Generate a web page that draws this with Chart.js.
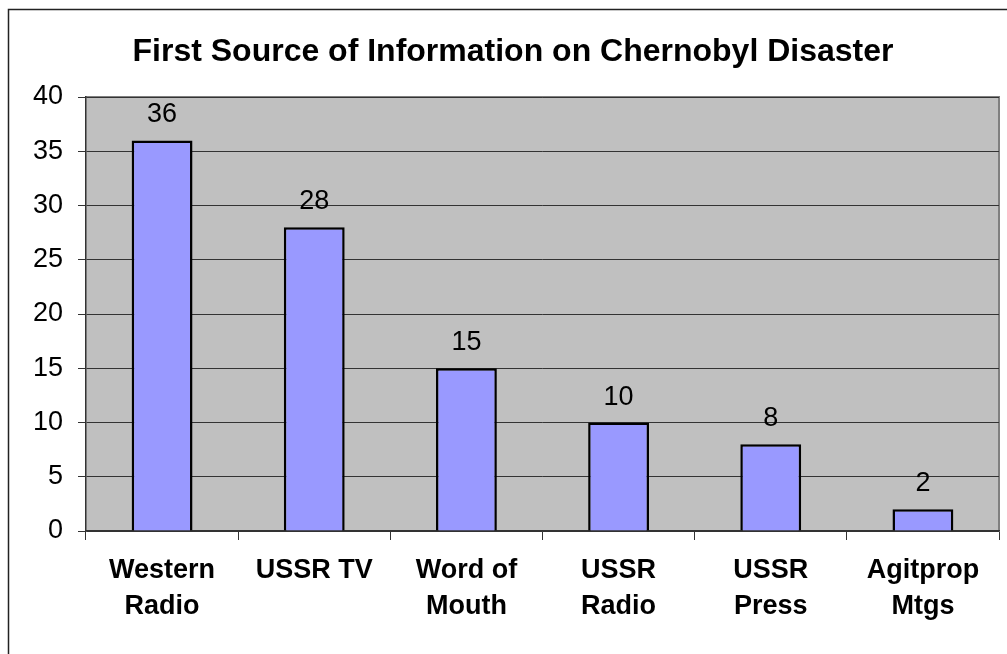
<!DOCTYPE html>
<html>
<head>
<meta charset="utf-8">
<script src="https://cdn.jsdelivr.net/npm/chart.js@4.4.0/dist/chart.umd.min.js"></script>
<style>
  html, body { margin: 0; padding: 0; background: #fff; }
  #wrap { width: 1007px; height: 654px; position: relative; }
</style>
</head>
<body>
<div id="wrap"><canvas id="chernobylChart"></canvas></div>
<script>
// data
const chartTitle = 'First Source of Information on Chernobyl Disaster';
const categories = [['Western', 'Radio'], ['USSR TV'], ['Word of', 'Mouth'], ['USSR', 'Radio'], ['USSR', 'Press'], ['Agitprop', 'Mtgs']];
const values = [36, 28, 15, 10, 8, 2];
const yTicks = [0, 5, 10, 15, 20, 25, 30, 35, 40];

const FONT = "'Liberation Sans', Arial, sans-serif";

// gray plot area, outer frame and title
const frame = {
  id: 'frame',
  beforeDraw(chart) {
    const ctx = chart.ctx;
    const a = chart.chartArea;
    ctx.save();
    ctx.fillStyle = '#C0C0C0';
    ctx.fillRect(a.left, a.top, a.right - a.left, a.bottom - a.top);
    ctx.strokeStyle = '#808080';
    ctx.lineWidth = 2;
    ctx.beginPath();
    ctx.moveTo(a.left, a.top);
    ctx.lineTo(a.right, a.top);
    ctx.lineTo(a.right, a.bottom);
    ctx.stroke();
    // outer border
    ctx.strokeStyle = '#222';
    ctx.lineWidth = 1.5;
    ctx.beginPath();
    ctx.moveTo(8.5, 654);
    ctx.lineTo(8.5, 9.5);
    ctx.lineTo(1007, 9.5);
    ctx.stroke();
    // title
    ctx.font = 'bold 32px ' + FONT;
    ctx.fillStyle = '#000';
    ctx.textAlign = 'center';
    ctx.textBaseline = 'alphabetic';
    ctx.fillText(chartTitle, 513, 61);
    ctx.restore();
  }
};

// values above bars
const barValues = {
  id: 'barValues',
  afterDatasetsDraw(chart) {
    const ctx = chart.ctx;
    const meta = chart.getDatasetMeta(0);
    ctx.save();
    ctx.font = '27px ' + FONT;
    ctx.fillStyle = '#000';
    ctx.textAlign = 'center';
    ctx.textBaseline = 'alphabetic';
    meta.data.forEach((bar, i) => {
      ctx.fillText(values[i], bar.x, bar.y - 18);
    });
    ctx.restore();
  }
};

new Chart(document.getElementById('chernobylChart'), {
  type: 'bar',
  data: {
    labels: categories,
    datasets: [
      {
        data: values,
        backgroundColor: '#9999FF',
        borderColor: '#000',
        borderWidth: 2.5,
        borderSkipped: 'bottom',
        barPercentage: 0.4,
        categoryPercentage: 1.0,
      }
    ]
  },
  options: {
    responsive: true,
    maintainAspectRatio: false,
    animation: false,
    layout: {
      padding: { left: 0, right: 8, top: 97, bottom: 0 }
    },
    plugins: {
      legend: { display: false },
      tooltip: { enabled: false },
      title: { display: false }
    },
    scales: {
      x: {
        afterFit(scale) { scale.height = 123; },
        grid: {
          offset: true,
          drawOnChartArea: false,
          drawTicks: true,
          tickLength: 9,
          tickColor: '#333',
        },
        border: { color: '#333', width: 1.5 },
        ticks: {
          color: '#000',
          padding: 13,
          maxRotation: 0,
          autoSkip: false,
          font: { size: 27, weight: 'bold', family: FONT, lineHeight: 36 / 27 },
        }
      },
      y: {
        min: 0,
        max: 40,
        afterFit(scale) { scale.width = 86; },
        afterBuildTicks(scale) { scale.ticks = yTicks.map(v => ({ value: v })); },
        grid: {
          color: '#333',
          lineWidth: 1,
          tickLength: 8,
          tickColor: '#333',
        },
        border: { color: '#333', width: 1.5 },
        ticks: {
          color: '#000',
          padding: 15,
          font: { size: 27, family: FONT },
        }
      }
    }
  },
  plugins: [frame, barValues]
});
</script>
</body>
</html>
